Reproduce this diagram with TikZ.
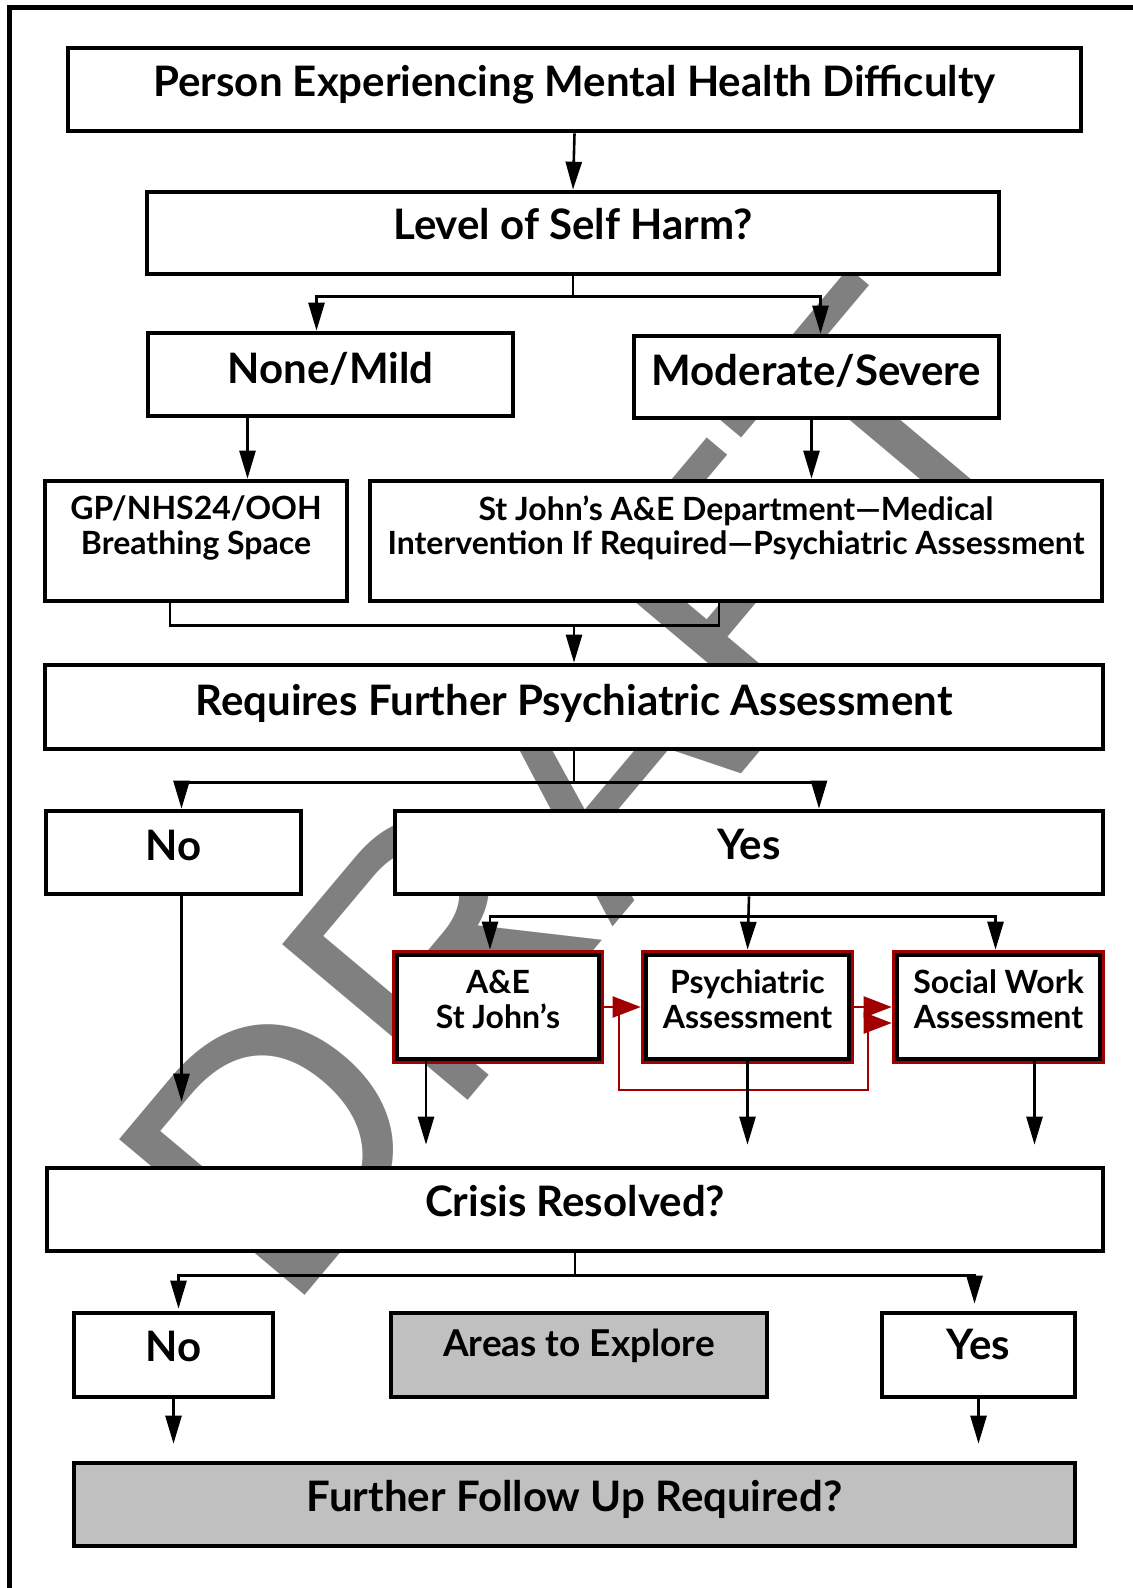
\documentclass[tikz,border=0pt]{standalone}
\usepackage{fontspec}
\setmainfont{Lato}
\newfontfamily\wmfont{Liberation Sans}
\usetikzlibrary{arrows.meta,calc}
\definecolor{rred}{RGB}{160,0,0}
\definecolor{wmgray}{RGB}{128,128,128}
\definecolor{boxgray}{RGB}{192,192,192}
\newcommand\fbig{\fontsize{21}{25}\selectfont\bfseries}
\newcommand\fmid{\fontsize{16}{19}\selectfont\bfseries}
\newcommand\fare{\fontsize{18.5}{22}\selectfont\bfseries}
\begin{document}
\begin{tikzpicture}[x=0.5pt,y=-0.5pt,
  flowbox/.style={draw=black, line width=2.3pt, fill=white, rectangle, inner sep=0pt},
  graybox/.style={flowbox, fill=boxgray},
  redbox/.style={flowbox, preaction={draw=rred, line width=5pt}},
  tb/.style={anchor=base, inner sep=0pt, font=\fbig},
  tm/.style={anchor=base, inner sep=0pt, font=\fmid},
  conn/.style={draw=black, line width=1.3pt},
  conarrow/.style={conn, -{Triangle[length=14pt,width=8pt]}},
  redarrow/.style={draw=rred, line width=1.1pt, -{Triangle[length=14pt,width=10.5pt]}},
  wmark/.style={inner sep=0pt, outer sep=0pt, anchor=base west, rotate=50, text=wmgray,
    font=\wmfont\fontsize{176}{176}\selectfont}
]
\useasboundingbox (0,0) rectangle (1133,1588);
\fill[white] (0,0) rectangle (1133,1588);

% DRAFT watermark, one letter after another along a rising baseline
\node[wmark] (wd) at (286,1317) {D};
\node[wmark] (wr) at (wd.base east) {R};
\node[wmark] (wa) at (wr.base east) {A};
\node[wmark] (wf) at (wa.base east) {F};
\node[wmark] (wt) at (wf.base east) {T};

% page frame (top and left rules)
\draw[line width=2.5pt] (9.5,1588) -- (9.5,7.5) -- (1133,7.5);

% boxes
\node[flowbox, minimum width=506.5pt, minimum height=41.5pt] (b1) at (574.5,89.5) {};
\node[flowbox, minimum width=426pt, minimum height=41pt] (b2) at (573,233) {};
\node[flowbox, minimum width=182.5pt, minimum height=41.5pt] (nm) at (330.5,374.5) {};
\node[flowbox, minimum width=182.5pt, minimum height=41pt] (ms) at (816.5,377) {};
\node[flowbox, minimum width=151pt, minimum height=60pt] (gp) at (196,541) {};
\node[flowbox, minimum width=366pt, minimum height=60pt] (sj) at (736,541) {};
\node[flowbox, minimum width=529pt, minimum height=42pt] (rq) at (574,707) {};
\node[flowbox, minimum width=127.5pt, minimum height=41.5pt] (no) at (173.5,852.5) {};
\node[flowbox, minimum width=354pt, minimum height=41.5pt] (ys) at (749,852.5) {};
\node[redbox, minimum width=101pt, minimum height=52pt] (ae) at (498,1007) {};
\node[redbox, minimum width=101.5pt, minimum height=52pt] (ps) at (747.5,1007) {};
\node[redbox, minimum width=101.5pt, minimum height=52pt] (sw) at (998.5,1007) {};
\node[flowbox, minimum width=528pt, minimum height=41.5pt] (cr) at (575,1209.5) {};
\node[flowbox, minimum width=99.5pt, minimum height=42pt] (no2) at (173.5,1355) {};
\node[graybox, minimum width=188pt, minimum height=42pt] (ar) at (579,1355) {};
\node[flowbox, minimum width=96.5pt, minimum height=42pt] (ys2) at (978.5,1355) {};
\node[graybox, minimum width=500.5pt, minimum height=41.5pt] (fu) at (574.5,1504.5) {};

% box texts
\node[tb] (b1t) at ($(b1.north)+(0,51)$) {Person Experiencing Mental Health Difficulty};
\node[tb] (b2t) at ($(b2.north)+(0,50)$) {Level of Self Harm?};
\node[tb] (nmt) at ($(nm.north)+(0,53)$) {None/Mild};
\node[tb] (mst) at ($(ms.north)+(0,52)$) {Moderate/Severe};
\node[tm] (gpa) at ($(gp.north)+(0,41)$) {GP/NHS24/OOH};
\node[tm] (gpb) at ($(gp.north)+(0,76)$) {Breathing Space};
\node[tm] (sja) at ($(sj.north)+(0,42)$) {St John’s A\&E Department—Medical};
\node[tm] (sjb) at ($(sj.north)+(0,76)$) {Intervention If Required—Psychiatric Assessment};
\node[tb] (rqt) at ($(rq.north)+(0,53)$) {Requires Further Psychiatric Assessment};
\node[tb] (not) at ($(no.north)+(0,52)$) {No};
\node[tb] (yst) at ($(ys.north)+(0,51)$) {Yes};
\node[tm] (aea) at ($(ae.north)+(0,41)$) {A\&E};
\node[tm] (aeb) at ($(ae.north)+(0,76)$) {St John’s};
\node[tm] (psa) at ($(ps.north)+(0,41)$) {Psychiatric};
\node[tm] (psb) at ($(ps.north)+(0,76)$) {Assessment};
\node[tm] (swa) at ($(sw.north)+(0,41)$) {Social Work};
\node[tm] (swb) at ($(sw.north)+(0,76)$) {Assessment};
\node[tb] (crt) at ($(cr.north)+(0,51)$) {Crisis Resolved?};
\node[tb] (no2t) at ($(no2.north)+(0,51)$) {No};
\node[tb, font=\fare] (art) at ($(ar.north)+(0,46)$) {Areas to Explore};
\node[tb] (ys2t) at ($(ys2.north)+(0,49)$) {Yes};
\node[tb] (fut) at ($(fu.north)+(0,51)$) {Further Follow Up Required?};

% person -> level
\draw[conarrow] (b1.south) -- (b2.north);

% level -> none/mild, moderate/severe
\path (b2.south) ++(0,20) coordinate (j2);
\draw[conn] (b2.south) -- (j2);
\draw[conarrow] (j2) -| ($(nm.north)+(-14,0)$);
\draw[conarrow] (j2) -| ($(ms.north)+(4,0)$);

% severity -> services
\coordinate (a1) at ($(nm.south)+(-83,0)$);
\draw[conarrow] (a1) -- (a1 |- gp.north);
\coordinate (a2) at ($(ms.south)+(-5,0)$);
\draw[conarrow] (a2) -- (a2 |- sj.north);

% services merge -> requires assessment
\coordinate (g1) at ($(gp.south)+(-26,0)$);
\coordinate (s1) at ($(sj.south)+(-17,0)$);
\path (g1) ++(0,22) coordinate (m1);
\draw[conn] (g1) -- (m1) -| (s1);
\draw[conarrow] (m1 -| rq.north) -- (rq.north);

% requires -> no / yes
\path (rq.south) ++(0,31) coordinate (j3);
\draw[conn] (rq.south) -- (j3);
\draw[conarrow] (j3) -| ($(no.north)+(8,0)$);
\draw[conarrow] (j3) -| ($(ys.north)+(70,0)$);

% yes -> assessments
\path (ys.south) ++(0,20) coordinate (j4);
\draw[conarrow, shorten >=1.5pt] (ys.south) -- (ps.north);
\draw[conarrow, shorten >=1.5pt] (j4) -| ($(ae.north)+(-8,0)$);
\draw[conarrow, shorten >=1.5pt] (j4) -| ($(sw.north)+(-3,0)$);

% red links between assessments
\draw[redarrow, shorten >=1.5pt] (ae.east) -- (ps.west);
\draw[redarrow, shorten >=1.5pt] (ps.east) -- (sw.west);
\path (ae.east) ++(18,0) coordinate (l1);
\path (l1) ++(0,83) coordinate (l2);
\coordinate (l3) at ($(sw.west)+(-27,16)$);
\draw[redarrow, shorten >=1.5pt] (l1) -- (l2) -| (l3) -- (l3 -| sw.west);

% outcomes -> crisis resolved
\coordinate (n1) at ($(no.south)+(8,0)$);
\draw[conarrow, shorten >=32pt] (n1) -- (n1 |- cr.north);
\coordinate (e1) at ($(ae.south)+(-72,0)$);
\draw[conarrow, shorten >=10.5pt] (e1) -- (e1 |- cr.north);
\draw[conarrow, shorten >=10.5pt] ($(ps.south)+(0,-3)$) -- (ps.south |- cr.north);
\coordinate (w1) at ($(sw.south)+(36,0)$);
\draw[conarrow, shorten >=10.5pt] (w1) -- (w1 |- cr.north);

% crisis resolved -> no / yes
\path (cr.south) ++(0,22) coordinate (j5);
\draw[conn] (cr.south) -- (j5);
\draw[conarrow, shorten >=1pt] (j5) -| ($(no2.north)+(5,0)$);
\draw[conarrow, shorten >=3.5pt] (j5) -| ($(ys2.north)+(-4,0)$);

% no / yes -> further follow up
\draw[conarrow, shorten >=8.5pt] (no2.south) -- (no2.south |- fu.north);
\draw[conarrow, shorten >=8.5pt] ($(ys2.south)+(0,-4)$) -- (ys2.south |- fu.north);
\end{tikzpicture}
\end{document}
